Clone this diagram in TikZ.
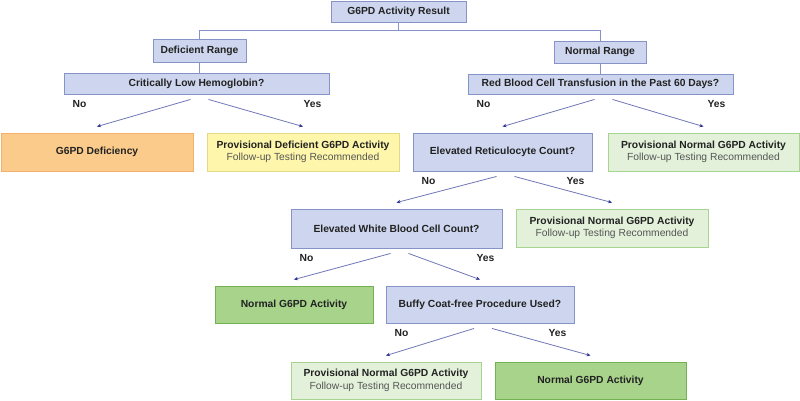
\documentclass[tikz,border=0pt]{standalone}
\usepackage{fontspec}
\setmainfont{Liberation Sans}
\usetikzlibrary{arrows.meta}

\definecolor{qfill}{HTML}{CDD6EE}
\definecolor{qline}{HTML}{8593C8}
\definecolor{ofill}{HTML}{FBCB8C}
\definecolor{oline}{HTML}{F2B06A}
\definecolor{yfill}{HTML}{FEF6AA}
\definecolor{yline}{HTML}{E4D985}
\definecolor{lgfill}{HTML}{E3F1DA}
\definecolor{lgline}{HTML}{A8D391}
\definecolor{gfill}{HTML}{A7D38B}
\definecolor{gline}{HTML}{74B152}
\definecolor{arrline}{HTML}{7076B6}
\definecolor{arrtip}{HTML}{2E3192}
\definecolor{txt}{HTML}{222222}
\definecolor{subtxt}{HTML}{555555}

\tikzset{
	box/.style={line width=0.9pt, inner sep=0pt, align=center, text=txt,
		font=\bfseries\fontsize{10.3}{12.5}\selectfont},
	wh/.style 2 args={minimum width=#1pt, minimum height=#2pt},
	question/.style={box, draw=qline, fill=qfill},
	deficiency/.style={box, draw=oline, fill=ofill},
	provdef/.style={box, draw=yline, fill=yfill},
	provnorm/.style={box, draw=lgline, fill=lgfill},
	normal/.style={box, draw=gline, fill=gfill},
	yn/.style={text=txt, font=\bfseries\fontsize{10.3}{12}\selectfont},
	link/.style={draw=qline, line width=0.9pt},
	flow/.style={draw=arrline, line width=0.8pt,
		-{Stealth[length=4pt,width=3.5pt,color=arrtip]}}
}

% second line of the provisional boxes
\newcommand{\followup}{\\{\mdseries\color{subtxt}Follow-up Testing Recommended}}
% No / Yes under a question box
\newcommand{\noyes}[1]{%
	\node[yn] (#1-no) at ([xshift=16pt,yshift=-10pt]#1.south west) {No};
	\node[yn] (#1-yes) at ([xshift=-17pt,yshift=-10pt]#1.south east) {Yes};}
% the two arrows out of a question box
\newcommand{\branch}[3]{%
	\draw[flow] ([xshift=-6pt,yshift=-5pt]#1.south) -- ([yshift=6pt]#2.north);
	\draw[flow] ([xshift=12pt,yshift=-5pt]#1.south) -- ([yshift=6pt]#3.north);}

\begin{document}
\begin{tikzpicture}[x=1pt,y=-1pt]
\useasboundingbox (0,0) rectangle (800,400);
%Kopf
\node[question, wh={135}{21}] (result) at (398.5,11.5) {G6PD Activity Result};
\node[question, wh={93}{23}] (defrange) at (199.5,50.5) {Deficient Range};
\node[question, wh={92}{22}] (normrange) at (600,52) {Normal Range};
\node[question, wh={265}{21}] (hemo) at (196.5,83.5) {Critically Low Hemoglobin?};
\node[question, wh={265}{20}] (transf) at (600.5,84) {Red Blood Cell Transfusion in the Past 60 Days?};
%Ebene 1
\node[deficiency, wh={192}{38}] (defic) at (97,152) {G6PD Deficiency};
\node[provdef, wh={192}{38}] (provdef) at (303,152) {Provisional Deficient G6PD Activity\followup};
\node[question, wh={179}{38}] (retic) at (502.5,152) {Elevated Reticulocyte Count?};
\node[provnorm, wh={191}{38}] (provA) at (703.5,152) {Provisional Normal G6PD Activity\followup};
%Ebene 2
\node[question, wh={211}{39}] (wbc) at (396.5,228.5) {Elevated White Blood Cell Count?};
\node[provnorm, wh={192}{38}] (provB) at (612,228) {Provisional Normal G6PD Activity\followup};
%Ebene 3
\node[normal, wh={158}{37}] (normA) at (294,304.5) {Normal G6PD Activity};
\node[question, wh={188}{37}] (buffy) at (480,304.5) {Buffy Coat-free Procedure Used?};
%Ebene 4
\node[provnorm, wh={190}{37}] (provC) at (386,380.5) {Provisional Normal G6PD Activity\followup};
\node[normal, wh={191}{37}] (normB) at (590.5,380.5) {Normal G6PD Activity};
%Verbindungen
\draw[link] (result.south) -- ++(0,8) -| (defrange.north);
\draw[link] (result.south) -- ++(0,8) -| (normrange.north);
\draw[link] (defrange.south) -- (defrange.south |- hemo.north);
\draw[link] (normrange.south) -- (normrange.south |- transf.north);
\noyes{hemo}
\noyes{transf}
\noyes{retic}
\noyes{wbc}
\noyes{buffy}
\branch{hemo}{defic}{provdef}
\branch{transf}{retic}{provA}
\branch{retic}{wbc}{provB}
\branch{wbc}{normA}{buffy}
\branch{buffy}{provC}{normB}
\end{tikzpicture}
\end{document}
